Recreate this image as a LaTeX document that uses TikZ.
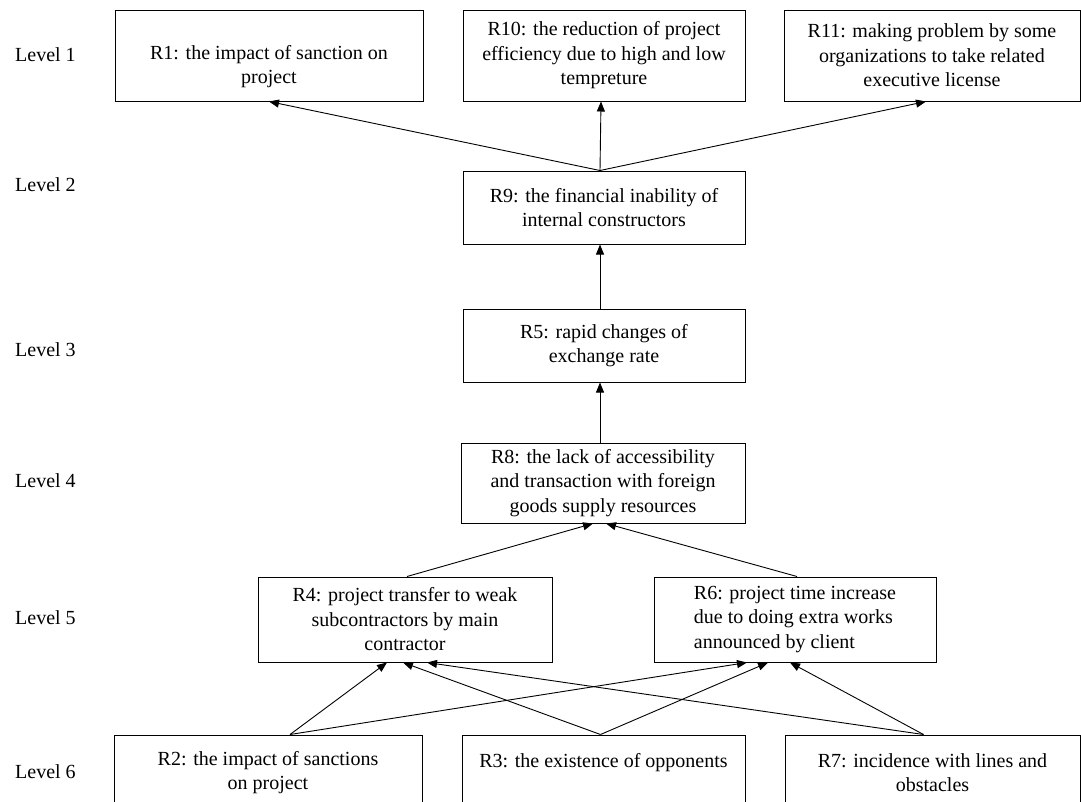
\documentclass[tikz,border=0pt]{standalone}
\usepackage{fontspec}
\setmainfont{LiberationSerif}[Extension=.ttf,UprightFont=*-Regular,
  BoldFont=*-Bold,ItalicFont=*-Italic,BoldItalicFont=*-BoldItalic]
\usetikzlibrary{arrows.meta}

\begin{document}
\begin{tikzpicture}[x=1pt,y=-1pt,>={Triangle[length=10pt,width=8pt]},
    risk/.style={draw,line width=1pt,inner sep=0pt,align=center,
      font=\rmfamily\fontsize{20}{24.5}\selectfont},
    lvl/.style={anchor=west,inner sep=0pt,font=\rmfamily\fontsize{20}{24}\selectfont},
    link/.style={->,line width=0.9pt}]
  \useasboundingbox[fill=white] (0,0) rectangle (1081,801);
  % level labels
  \node[lvl] (L1) at (15,55) {Level 1};
  \node[lvl] (L2) at (15,185) {Level 2};
  \node[lvl] (L3) at (15,350) {Level 3};
  \node[lvl] (L4) at (15,481) {Level 4};
  \node[lvl] (L5) at (15,618) {Level 5};
  \node[lvl] (L6) at (15,772) {Level 6};
  % level 1
  \node[risk,minimum width=308pt,minimum height=91pt] (R1) at (269,55.5)
    {\rule{0pt}{36pt}R1: the impact of sanction on\\project};
  \node[risk,minimum width=282pt,minimum height=91pt] (R10) at (604,55.5)
    {R10: the reduction of project\\efficiency due to high and low\\tempreture};
  \node[risk,minimum width=296pt,minimum height=91pt] (R11) at (932,55.5)
    {R11: making problem by some\\organizations to take related\\executive license};
  % levels 2 to 4
  \node[risk,minimum width=282pt,minimum height=73pt] (R9) at (604,207.5)
    {R9: the financial inability of\\internal constructors};
  \node[risk,minimum width=282pt,minimum height=73pt] (R5) at (604,345.5)
    {R5: rapid changes of\\exchange rate};
  \node[risk,minimum width=284pt,minimum height=80pt] (R8) at (603,483)
    {R8: the lack of accessibility\\and transaction with foreign\\goods supply resources};
  % level 5
  \node[risk,minimum width=294pt,minimum height=85pt] (R4) at (405,619.5)
    {R4: project transfer to weak\\subcontractors by main\\contractor};
  \node[risk,minimum width=282pt,minimum height=85pt,align=left] (R6) at (795,619.5)
    {R6: project time increase\\due to doing extra works\\announced by client};
  % level 6 (cut at the bottom)
  \node[risk,minimum width=308pt,minimum height=75pt] (R2) at (268,772.5)
    {R2: the impact of sanctions\\on project};
  \node[risk,minimum width=283pt,minimum height=75pt] (R3) at (603.5,772.5)
    {R3: the existence of opponents\\\mbox{}};
  \node[risk,minimum width=295pt,minimum height=75pt] (R7) at (932.5,772.5)
    {R7: incidence with lines and\\obstacles};
  % links
  \foreach \t/\s in {R1/0,R10/-3,R11/-6}
    \draw[link] ([xshift=-4pt]R9.north) -- ([xshift=\s pt]\t.south);
  \draw[link] ([xshift=-4pt]R5.north) -- ([xshift=-4pt]R9.south);
  \draw[link] ([xshift=-3pt]R8.north) -- ([xshift=-4pt]R5.south);
  \draw[link] ([xshift=2pt]R4.north) -- ([xshift=-10pt]R8.south);
  \draw[link] ([xshift=2pt]R6.north) -- ([xshift=3pt]R8.south);
  \foreach \src/\dx/\ua/\ub in {R2/22/-18/-48,R3/-3/-2/-27,R7/-9/22/-5}{
    \draw[link] ([xshift=\dx pt]\src.north) -- ([xshift=\ua pt]R4.south);
    \draw[link] ([xshift=\dx pt]\src.north) -- ([xshift=\ub pt]R6.south);
  }
\end{tikzpicture}
\end{document}
